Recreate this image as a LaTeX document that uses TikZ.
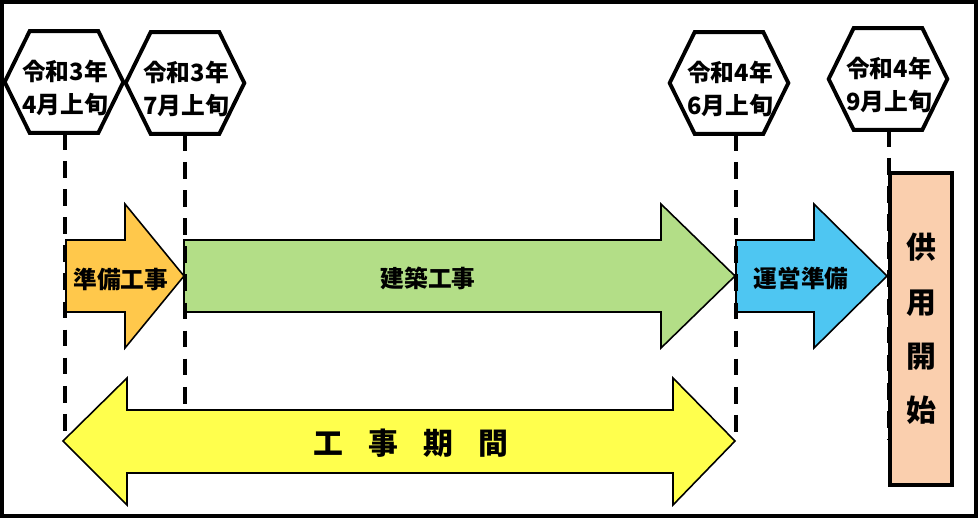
\documentclass[tikz,border=0pt]{standalone}
\usepackage{fontspec}
\newfontfamily\jp{Noto Sans CJK JP}
\definecolor{prepcol}{HTML}{FFC84B}
\definecolor{buildcol}{HTML}{B3DE87}
\definecolor{runcol}{HTML}{4EC6F2}
\definecolor{termcol}{HTML}{FFFF4D}
\definecolor{opencol}{HTML}{FACFAE}
\begin{document}
\begin{tikzpicture}[x=0.02cm, y=-0.02cm, font=\jp\bfseries\fontsize{13.5}{18.7}\selectfont,
	hexa/.style={draw, line width=2.2pt, line join=miter},
	hexnode/.style={minimum width=2.36cm, minimum height=2.02cm, inner sep=0pt},
	period/.style={line width=2.2pt, dash pattern=on 9.5pt off 6.5pt},
	arrowshape/.style={draw, line width=0.9pt, line join=miter},
	bigtext/.style={font=\jp\bfseries\fontsize{17}{31}\selectfont}]
	\useasboundingbox (0,0) rectangle (978,518);
	\draw[line width=2.6pt] (2,2) rectangle (976,516);
	\foreach \n/\x/\y/\yr/\mo in {1/64/82/3/4, 2/185/83/3/7, 3/729/83/4/6, 4/888/79/4/9} {
		\node[hexnode] (h\n) at (\x,\y) {};
		\draw[hexa] (h\n.west) -- ([xshift=0.5cm]h\n.north west) -- ([xshift=-0.5cm]h\n.north east) -- (h\n.east)
			-- ([xshift=-0.5cm]h\n.south east) -- ([xshift=0.5cm]h\n.south west) -- cycle;
		\node[align=center] (t\n) at (\x+1,\y+6) {令和\yr 年\\\mo 月上旬};
	}
	\foreach \xa/\xb/\xc/\col in {66/125/184/prepcol, 184/661/735/buildcol, 736/814/887/runcol}
		\filldraw[arrowshape, fill=\col] (\xa,240) -- (\xb,240) -- (\xb,204) -- (\xc,276) -- (\xb,348) -- (\xb,312) -- (\xa,312) -- cycle;
	\filldraw[arrowshape, fill=termcol] (63,441) -- (127,378) -- (127,410) -- (673,410) -- (673,378) -- (735,441)
		-- (673,505) -- (673,473) -- (127,473) -- (127,505) -- cycle;
	\foreach \n/\xd/\yb in {1/65/441, 2/185/405, 3/736/441, 4/889/440}
		\draw[period] (h\n.south -| \xd,0) -- (\xd,\yb);
	\node (prep) at (121,279) {準備工事};
	\node (build) at (428,278) {建築工事};
	\node (run) at (801,278) {運営準備};
	\node[bigtext] (term) at (411,443) {工\hspace{0.85em}事\hspace{0.85em}期\hspace{0.85em}間};
	\node[draw, line width=2.2pt, fill=opencol, minimum width=1.24cm, minimum height=6.24cm, inner sep=0pt,
		bigtext, align=center] (open) at (921,329) {供\\用\\開\\始};
\end{tikzpicture}
\end{document}
